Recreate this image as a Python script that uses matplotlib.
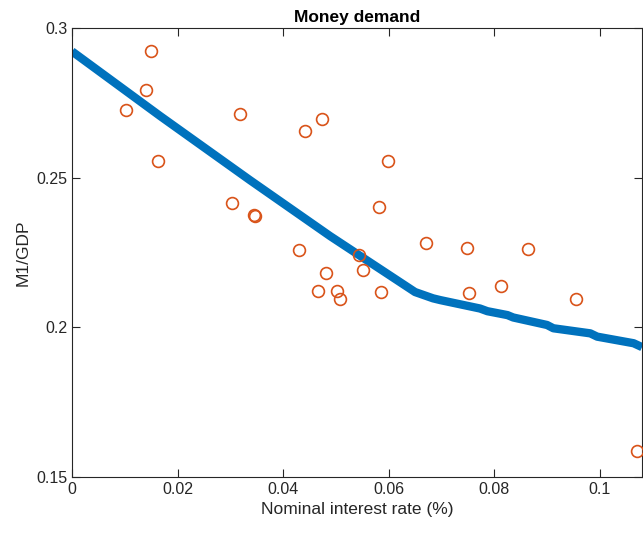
import matplotlib.pyplot as plt

# observed data (nominal rate, M1/GDP)
rate = [0.0102, 0.0140, 0.0149, 0.0163, 0.0318, 0.0303, 0.0345, 0.0347,
        0.0442, 0.0474, 0.0598, 0.0582, 0.0430, 0.0482, 0.0467, 0.0503,
        0.0508, 0.0543, 0.0551, 0.0586, 0.0670, 0.0748, 0.0752, 0.0813,
        0.0864, 0.0954, 0.1071]
m1_gdp = [0.2725, 0.2793, 0.2923, 0.2557, 0.2712, 0.2416, 0.2375, 0.2372,
          0.2656, 0.2696, 0.2556, 0.2401, 0.2259, 0.2180, 0.2122, 0.2122,
          0.2094, 0.2242, 0.2193, 0.2119, 0.2282, 0.2266, 0.2114, 0.2138,
          0.2262, 0.2094, 0.1588]

# model curve
model_x = [0.0, 0.0167, 0.0337, 0.0489, 0.0650, 0.0684, 0.0698, 0.0773,
           0.0787, 0.0825, 0.0836, 0.0900, 0.0912, 0.0982, 0.0995, 0.1064,
           0.1080]
model_y = [0.2922, 0.2706, 0.2492, 0.2305, 0.2118, 0.2097, 0.2091, 0.2063,
           0.2054, 0.2041, 0.2033, 0.2008, 0.1997, 0.1980, 0.1969, 0.1947,
           0.1934]

plt.rcParams['font.family'] = ['Liberation Sans', 'DejaVu Sans']
dark = '#262626'

fig = plt.figure(figsize=(6.43, 5.33), dpi=100)
ax = fig.add_axes([0.112, 0.105, 0.8865, 0.8424])

ax.plot(model_x, model_y, color='#0072BD', linewidth=6,
        solid_capstyle='butt', solid_joinstyle='round', zorder=2)
ax.plot(rate, m1_gdp, linestyle='none', marker='o', markersize=8.5,
        markerfacecolor='none', markeredgecolor='#D95319',
        markeredgewidth=1.2, zorder=3)

ax.set_xlim(0, 0.108)
ax.set_ylim(0.15, 0.3)
ax.set_xticks([0, 0.02, 0.04, 0.06, 0.08, 0.1])
ax.set_xticklabels(['0', '0.02', '0.04', '0.06', '0.08', '0.1'])
ax.set_yticks([0.15, 0.2, 0.25, 0.3])
ax.set_yticklabels(['0.15', '0.2', '0.25', '0.3'])
ax.tick_params(direction='in', top=True, right=True, length=6,
               width=0.8, colors=dark, labelsize=11.5)
for s in ax.spines.values():
    s.set_color(dark)
    s.set_linewidth(0.8)

ax.set_xlabel('Nominal interest rate (%)', fontsize=12.5, color=dark)
ax.set_ylabel('M1/GDP', fontsize=12.5, color=dark)
ax.set_title('Money demand', fontsize=12.5, fontweight='bold', pad=4)

fig.savefig('out.png', dpi=100)
